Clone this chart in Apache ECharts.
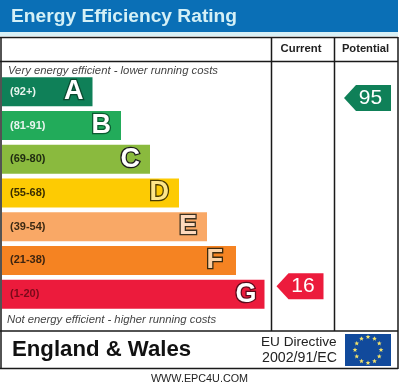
<!DOCTYPE html>
<html><head><meta charset="utf-8">
<style>html,body{margin:0;padding:0;background:#fff}#c{width:400px;height:388px}</style>
<script src="https://cdn.jsdelivr.net/npm/echarts@6/dist/echarts.min.js"></script></head>
<body><div id="c"></div>
<script>
const bandRanges = ['(92+)','(81-91)','(69-80)','(55-68)','(39-54)','(21-38)','(1-20)'];
const bandLetters = ['A','B','C','D','E','F','G'];
const bandLengths = [90.5,119,148,177,205,234,262.5];
const bandColors = ['#0f8058','#22ab5a','#8aba3e','#fdcb03','#f9a866','#f58322','#ec1b3c'];
const rangeColors = ['#e8f5ee','#e8f5ee','#1f2a10','#3a2e00','#3d2a14','#3d2410','#7a0a1a'];
const letterFills = ['#ffffff','#ffffff','#ffffff','#fde68a','#fdd9bc','#fcd0a4','#ffffff'];
const letterStrokes = ['#0a4a30','#0a5a30','#1c1c1c','#4a3c00','#3a3020','#3a2a10','#5a0a1a'];
const letterInsets = [9,10,10,10,10,13,8];
const columnNames = ['Current','Potential'];
const currentScore = 16, potentialScore = 95;
const topNote = 'Very energy efficient - lower running costs';
const bottomNote = 'Not energy efficient - higher running costs';

const arrowPath = 'path://M0 13 L12 0 L47 0 L47 26 L12 26 Z';
const chart = echarts.init(document.getElementById('c'), null, {renderer:'canvas'});
const line = (x1,y1,x2,y2,w=1.5,c='#1a1a1a') => ({type:'line',shape:{x1,y1,x2,y2},style:{stroke:c,lineWidth:w},silent:true});
const txt = (x,y,text,font,fill,align='left') => ({type:'text',x,y,style:{text,font,fill,align,verticalAlign:'middle'},z:10});
const stars = [];
for (let i=0;i<12;i++){
  const a=i*Math.PI/6, cx=368+13*Math.sin(a), cy=350-13*Math.cos(a), pts=[];
  for (let k=0;k<10;k++){const b=k*Math.PI/5, r=k%2?1.1:2.5; pts.push([cx+r*Math.sin(b),cy-r*Math.cos(b)]);}
  stars.push({type:'polygon',shape:{points:pts},style:{fill:'#f4e36a'},z:11});
}

chart.setOption({
  animation:false,
  backgroundColor:'#ffffff',
  grid:[{left:2,top:75,width:396,height:236}],
  xAxis:[{type:'value',min:0,max:396,show:false}],
  yAxis:[
    {type:'category',data:bandRanges,inverse:true,show:false},
    {type:'value',min:5.6,max:104.6,show:false,gridIndex:0}
  ],
  series:[
    {type:'bar',barWidth:29,data:bandLengths.map((v,i)=>({value:v,itemStyle:{color:bandColors[i]},
      label:{color:rangeColors[i]}})),
      label:{show:true,position:'insideLeft',distance:8,formatter:p=>p.name,fontFamily:'Liberation Sans',fontSize:11,fontWeight:'bold'}},
    {type:'bar',barWidth:29,barGap:'-100%',data:bandLengths.map((v,i)=>({value:v,itemStyle:{color:'transparent'},
      label:{color:letterFills[i],textBorderColor:letterStrokes[i],textBorderWidth:2.6,distance:letterInsets[i],formatter:bandLetters[i]}})),
      label:{show:true,position:'insideRight',fontFamily:'Liberation Sans',fontSize:27,fontWeight:'bold'}},
    {type:'scatter',yAxisIndex:1,symbol:arrowPath,symbolSize:[47,26],symbolKeepAspect:false,itemStyle:{opacity:1},
      data:[{value:[298,currentScore],itemStyle:{color:'#ec1b3c',opacity:1},label:{formatter:String(currentScore)}},
            {value:[365.5,potentialScore],itemStyle:{color:'#0f8058',opacity:1},label:{formatter:String(potentialScore)}}],
      label:{show:true,position:'inside',offset:[3,0],color:'#fff',fontFamily:'Liberation Sans',fontSize:21}}
  ],
  graphic:{elements:[
    {type:'rect',shape:{x:0,y:0,width:398,height:32},style:{fill:'#0a6fb6'}},
    {type:'rect',shape:{x:0,y:32,width:398,height:4},style:{fill:'#d8f0f6'}},
    txt(11,17,'Energy Efficiency Rating','bold 19.2px "Liberation Sans"','#d4f0f6'),
    line(0,37.5,398,37.5),line(0,61.5,398,61.5),line(0,331,398,331),line(0,368.5,398,368.5),
    line(1,37,1,369),line(398,37,398,369),line(271.5,37,271.5,331),line(334.5,37,334.5,331),
    txt(301,49,columnNames[0],'bold 11.3px "Liberation Sans"','#222','center'),
    txt(365.5,49,columnNames[1],'bold 11.2px "Liberation Sans"','#222','center'),
    txt(8,71,topNote,'italic 11.3px "Liberation Sans"','#444'),
    txt(7,320,bottomNote,'italic 11.3px "Liberation Sans"','#444'),
    txt(12,350,'England & Wales','bold 22.2px "Liberation Sans"','#111'),
    txt(261,342,'EU Directive','13.6px "Liberation Sans"','#222'),
    txt(262,358,'2002/91/EC','14.2px "Liberation Sans"','#222'),
    {type:'rect',shape:{x:345,y:334,width:46,height:32},style:{fill:'#114a9c'},z:10},
    ...stars,
    txt(199.5,379,'WWW.EPC4U.COM','10.8px "Liberation Sans"','#222','center')
  ]}
});
</script></body></html>
